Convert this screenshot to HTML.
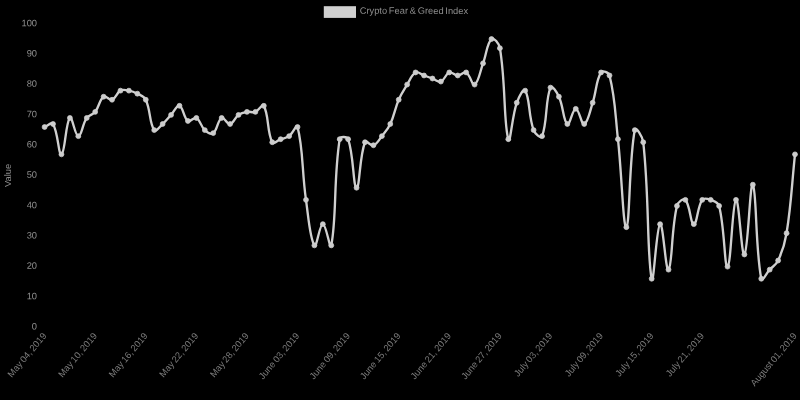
<!DOCTYPE html>
<html><head><meta charset="utf-8"><title>Crypto Fear &amp; Greed Index</title>
<style>
html,body{margin:0;padding:0;background:#000;}
body{width:800px;height:400px;overflow:hidden;}
svg{display:block;word-spacing:-0.8px;filter:blur(0.35px);font-family:"Liberation Sans",sans-serif;font-size:9.3px;fill:#8e8e8e;}
</style></head><body>
<svg width="800" height="400" viewBox="0 0 800 400">
<rect width="800" height="400" fill="#000"/>
<rect x="323.8" y="6.2" width="32.2" height="11.7" fill="#d0d0d0"/>
<text transform="translate(359.7,11.3) rotate(0.1)" font-size="9.3" dominant-baseline="middle">Crypto Fear &amp; Greed Index</text>
<text transform="translate(8.5,175.4) rotate(-90)" text-anchor="middle" dominant-baseline="middle">Value</text>
<g><text transform="translate(37.00,327.10) rotate(0.1)" font-size="9.3" text-anchor="end" dominant-baseline="middle">0</text><text transform="translate(37.00,296.76) rotate(0.1)" font-size="9.3" text-anchor="end" dominant-baseline="middle">10</text><text transform="translate(37.00,266.42) rotate(0.1)" font-size="9.3" text-anchor="end" dominant-baseline="middle">20</text><text transform="translate(37.00,236.08) rotate(0.1)" font-size="9.3" text-anchor="end" dominant-baseline="middle">30</text><text transform="translate(37.00,205.74) rotate(0.1)" font-size="9.3" text-anchor="end" dominant-baseline="middle">40</text><text transform="translate(37.00,175.40) rotate(0.1)" font-size="9.3" text-anchor="end" dominant-baseline="middle">50</text><text transform="translate(37.00,145.06) rotate(0.1)" font-size="9.3" text-anchor="end" dominant-baseline="middle">60</text><text transform="translate(37.00,114.72) rotate(0.1)" font-size="9.3" text-anchor="end" dominant-baseline="middle">70</text><text transform="translate(37.00,84.38) rotate(0.1)" font-size="9.3" text-anchor="end" dominant-baseline="middle">80</text><text transform="translate(37.00,54.04) rotate(0.1)" font-size="9.3" text-anchor="end" dominant-baseline="middle">90</text><text transform="translate(37.00,23.70) rotate(0.1)" font-size="9.3" text-anchor="end" dominant-baseline="middle">100</text></g>
<g fill="#7c7c7c"><text transform="translate(45.10,334.50) rotate(-50)" text-anchor="end" dominant-baseline="middle">May 04, 2019</text><text transform="translate(95.69,334.50) rotate(-50)" text-anchor="end" dominant-baseline="middle">May 10, 2019</text><text transform="translate(146.28,334.50) rotate(-50)" text-anchor="end" dominant-baseline="middle">May 16, 2019</text><text transform="translate(196.87,334.50) rotate(-50)" text-anchor="end" dominant-baseline="middle">May 22, 2019</text><text transform="translate(247.46,334.50) rotate(-50)" text-anchor="end" dominant-baseline="middle">May 28, 2019</text><text transform="translate(298.04,334.50) rotate(-50)" text-anchor="end" dominant-baseline="middle">June 03, 2019</text><text transform="translate(348.63,334.50) rotate(-50)" text-anchor="end" dominant-baseline="middle">June 09, 2019</text><text transform="translate(399.22,334.50) rotate(-50)" text-anchor="end" dominant-baseline="middle">June 15, 2019</text><text transform="translate(449.81,334.50) rotate(-50)" text-anchor="end" dominant-baseline="middle">June 21, 2019</text><text transform="translate(500.40,334.50) rotate(-50)" text-anchor="end" dominant-baseline="middle">June 27, 2019</text><text transform="translate(550.99,334.50) rotate(-50)" text-anchor="end" dominant-baseline="middle">July 03, 2019</text><text transform="translate(601.58,334.50) rotate(-50)" text-anchor="end" dominant-baseline="middle">July 09, 2019</text><text transform="translate(652.17,334.50) rotate(-50)" text-anchor="end" dominant-baseline="middle">July 15, 2019</text><text transform="translate(702.75,334.50) rotate(-50)" text-anchor="end" dominant-baseline="middle">July 21, 2019</text><text transform="translate(795.50,334.50) rotate(-50)" text-anchor="end" dominant-baseline="middle">August 01, 2019</text></g>
<path d="M44.60,127.06 C47.97,125.84 51.54,121.60 53.03,124.02 C58.28,132.52 58.38,155.47 61.46,154.36 C65.12,153.04 65.51,122.69 69.89,117.95 C72.25,115.41 74.95,136.16 78.33,136.16 C81.70,136.16 82.31,124.35 86.76,117.95 C89.06,114.64 92.66,115.07 95.19,111.89 C99.41,106.57 99.17,99.92 103.62,96.72 C105.92,95.06 109.22,100.77 112.05,99.75 C115.97,98.34 116.47,92.82 120.48,90.65 C123.21,89.17 125.64,90.06 128.91,90.65 C132.39,91.27 134.22,92.00 137.35,93.68 C140.97,95.64 144.10,96.14 145.78,99.75 C150.85,110.70 149.14,122.79 154.21,130.09 C155.88,132.50 159.57,126.79 162.64,124.02 C166.31,120.72 167.70,118.56 171.07,114.92 C174.44,111.28 176.69,104.81 179.50,105.82 C183.44,107.23 183.49,117.79 187.93,120.99 C190.23,122.64 193.82,116.58 196.37,117.95 C200.57,120.22 200.60,126.31 204.80,130.09 C207.34,132.38 210.93,134.78 213.23,133.12 C217.68,129.92 217.44,120.23 221.66,117.95 C224.19,116.59 227.02,124.58 230.09,124.02 C233.76,123.36 234.61,117.74 238.52,114.92 C241.35,112.88 243.48,112.51 246.96,111.89 C250.23,111.30 252.36,112.97 255.39,111.89 C259.11,110.55 262.35,103.18 263.82,105.82 C269.10,115.31 266.81,131.46 272.25,142.23 C273.55,144.81 277.31,140.41 280.68,139.19 C284.05,137.98 286.28,138.19 289.11,136.16 C293.03,133.34 296.57,123.37 297.54,127.06 C303.31,148.85 301.84,170.86 305.98,199.87 C308.59,218.19 309.89,238.88 314.41,245.38 C316.64,248.59 319.47,224.14 322.84,224.14 C326.21,224.14 330.08,251.38 331.27,245.38 C336.82,217.40 333.45,178.55 339.70,139.19 C340.20,136.08 347.15,136.35 348.13,139.19 C353.89,155.77 353.09,187.11 356.56,187.74 C359.83,188.32 359.34,156.46 365.00,142.23 C366.09,139.47 370.60,146.28 373.43,145.26 C377.34,143.85 378.78,140.04 381.86,136.16 C385.53,131.54 387.83,129.34 390.29,124.02 C394.57,114.78 394.70,109.17 398.72,99.75 C401.44,93.39 403.51,90.48 407.15,84.58 C410.25,79.56 411.39,74.71 415.58,72.44 C418.13,71.07 420.64,74.26 424.02,75.48 C427.39,76.69 429.07,77.30 432.45,78.51 C435.82,79.73 438.05,82.56 440.88,81.55 C444.80,80.14 445.39,73.85 449.31,72.44 C452.14,71.43 454.37,75.48 457.74,75.48 C461.11,75.48 463.63,71.07 466.17,72.44 C470.37,74.71 471.96,86.01 474.60,84.58 C478.70,82.37 479.86,71.91 483.04,63.34 C486.61,53.71 486.92,43.16 491.47,39.07 C493.66,37.09 499.09,43.39 499.90,48.17 C505.84,83.43 503.54,123.69 508.33,139.19 C510.29,145.53 511.93,116.70 516.76,102.78 C518.67,97.28 523.38,87.72 525.19,90.65 C530.13,98.64 528.26,115.61 533.62,130.09 C535.01,133.82 540.88,139.12 542.06,136.16 C547.63,122.13 545.10,100.22 550.49,87.61 C551.84,84.44 556.88,92.31 558.92,96.72 C563.62,106.87 563.15,121.00 567.35,124.02 C569.90,125.86 572.41,108.85 575.78,108.85 C579.15,108.85 581.30,125.07 584.21,124.02 C588.05,122.64 589.81,111.46 592.64,102.78 C596.55,90.83 595.83,80.95 601.08,72.44 C602.57,70.02 608.68,72.21 609.51,75.48 C615.43,98.91 615.10,113.65 617.94,139.19 C621.84,174.33 623.16,228.91 626.37,227.18 C629.91,225.27 628.95,159.60 634.80,130.09 C635.69,125.62 642.58,136.43 643.23,142.23 C649.32,195.89 646.86,255.42 651.67,278.76 C653.61,288.18 656.43,226.13 660.10,224.14 C663.17,222.48 665.70,272.70 668.53,269.65 C672.45,265.42 671.15,229.97 676.96,205.94 C677.90,202.06 683.45,197.78 685.39,199.87 C690.19,205.06 690.45,224.14 693.82,224.14 C697.20,224.14 697.18,207.18 702.25,199.87 C703.92,197.47 707.66,198.78 710.69,199.87 C714.41,201.21 718.14,202.07 719.12,205.94 C724.88,228.77 724.33,267.78 727.55,266.62 C731.08,265.35 732.28,202.54 735.98,199.87 C739.02,197.68 741.44,257.15 744.41,254.48 C748.19,251.09 749.96,180.56 752.84,184.70 C756.71,190.27 755.31,248.72 761.27,278.76 C762.06,282.70 766.33,273.29 769.71,269.65 C773.08,266.01 776.10,264.96 778.14,260.55 C782.84,250.40 784.78,244.49 786.57,233.25 C791.53,202.02 791.63,185.92 795.00,154.36" fill="none" stroke="#d0d0d0" stroke-width="2.35" stroke-linejoin="miter" stroke-linecap="butt"/>
<g fill="#cccccc" stroke="#d0d0d0" stroke-width="0.75"><circle cx="44.60" cy="127.06" r="2.45"/><circle cx="53.03" cy="124.02" r="2.45"/><circle cx="61.46" cy="154.36" r="2.45"/><circle cx="69.89" cy="117.95" r="2.45"/><circle cx="78.33" cy="136.16" r="2.45"/><circle cx="86.76" cy="117.95" r="2.45"/><circle cx="95.19" cy="111.89" r="2.45"/><circle cx="103.62" cy="96.72" r="2.45"/><circle cx="112.05" cy="99.75" r="2.45"/><circle cx="120.48" cy="90.65" r="2.45"/><circle cx="128.91" cy="90.65" r="2.45"/><circle cx="137.35" cy="93.68" r="2.45"/><circle cx="145.78" cy="99.75" r="2.45"/><circle cx="154.21" cy="130.09" r="2.45"/><circle cx="162.64" cy="124.02" r="2.45"/><circle cx="171.07" cy="114.92" r="2.45"/><circle cx="179.50" cy="105.82" r="2.45"/><circle cx="187.93" cy="120.99" r="2.45"/><circle cx="196.37" cy="117.95" r="2.45"/><circle cx="204.80" cy="130.09" r="2.45"/><circle cx="213.23" cy="133.12" r="2.45"/><circle cx="221.66" cy="117.95" r="2.45"/><circle cx="230.09" cy="124.02" r="2.45"/><circle cx="238.52" cy="114.92" r="2.45"/><circle cx="246.96" cy="111.89" r="2.45"/><circle cx="255.39" cy="111.89" r="2.45"/><circle cx="263.82" cy="105.82" r="2.45"/><circle cx="272.25" cy="142.23" r="2.45"/><circle cx="280.68" cy="139.19" r="2.45"/><circle cx="289.11" cy="136.16" r="2.45"/><circle cx="297.54" cy="127.06" r="2.45"/><circle cx="305.98" cy="199.87" r="2.45"/><circle cx="314.41" cy="245.38" r="2.45"/><circle cx="322.84" cy="224.14" r="2.45"/><circle cx="331.27" cy="245.38" r="2.45"/><circle cx="339.70" cy="139.19" r="2.45"/><circle cx="348.13" cy="139.19" r="2.45"/><circle cx="356.56" cy="187.74" r="2.45"/><circle cx="365.00" cy="142.23" r="2.45"/><circle cx="373.43" cy="145.26" r="2.45"/><circle cx="381.86" cy="136.16" r="2.45"/><circle cx="390.29" cy="124.02" r="2.45"/><circle cx="398.72" cy="99.75" r="2.45"/><circle cx="407.15" cy="84.58" r="2.45"/><circle cx="415.58" cy="72.44" r="2.45"/><circle cx="424.02" cy="75.48" r="2.45"/><circle cx="432.45" cy="78.51" r="2.45"/><circle cx="440.88" cy="81.55" r="2.45"/><circle cx="449.31" cy="72.44" r="2.45"/><circle cx="457.74" cy="75.48" r="2.45"/><circle cx="466.17" cy="72.44" r="2.45"/><circle cx="474.60" cy="84.58" r="2.45"/><circle cx="483.04" cy="63.34" r="2.45"/><circle cx="491.47" cy="39.07" r="2.45"/><circle cx="499.90" cy="48.17" r="2.45"/><circle cx="508.33" cy="139.19" r="2.45"/><circle cx="516.76" cy="102.78" r="2.45"/><circle cx="525.19" cy="90.65" r="2.45"/><circle cx="533.62" cy="130.09" r="2.45"/><circle cx="542.06" cy="136.16" r="2.45"/><circle cx="550.49" cy="87.61" r="2.45"/><circle cx="558.92" cy="96.72" r="2.45"/><circle cx="567.35" cy="124.02" r="2.45"/><circle cx="575.78" cy="108.85" r="2.45"/><circle cx="584.21" cy="124.02" r="2.45"/><circle cx="592.64" cy="102.78" r="2.45"/><circle cx="601.08" cy="72.44" r="2.45"/><circle cx="609.51" cy="75.48" r="2.45"/><circle cx="617.94" cy="139.19" r="2.45"/><circle cx="626.37" cy="227.18" r="2.45"/><circle cx="634.80" cy="130.09" r="2.45"/><circle cx="643.23" cy="142.23" r="2.45"/><circle cx="651.67" cy="278.76" r="2.45"/><circle cx="660.10" cy="224.14" r="2.45"/><circle cx="668.53" cy="269.65" r="2.45"/><circle cx="676.96" cy="205.94" r="2.45"/><circle cx="685.39" cy="199.87" r="2.45"/><circle cx="693.82" cy="224.14" r="2.45"/><circle cx="702.25" cy="199.87" r="2.45"/><circle cx="710.69" cy="199.87" r="2.45"/><circle cx="719.12" cy="205.94" r="2.45"/><circle cx="727.55" cy="266.62" r="2.45"/><circle cx="735.98" cy="199.87" r="2.45"/><circle cx="744.41" cy="254.48" r="2.45"/><circle cx="752.84" cy="184.70" r="2.45"/><circle cx="761.27" cy="278.76" r="2.45"/><circle cx="769.71" cy="269.65" r="2.45"/><circle cx="778.14" cy="260.55" r="2.45"/><circle cx="786.57" cy="233.25" r="2.45"/><circle cx="795.00" cy="154.36" r="2.45"/></g>
</svg>
</body></html>
